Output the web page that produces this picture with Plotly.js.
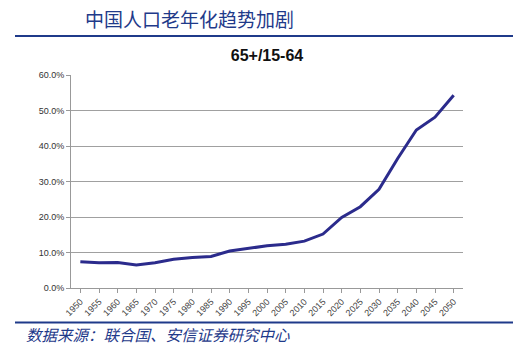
<!DOCTYPE html>
<html><head><meta charset="utf-8">
<script src="https://cdn.plot.ly/plotly-3.0.1.min.js"></script>
<style>html,body{margin:0;padding:0;background:#fff;}#c{width:531px;height:353px;}</style>
</head><body><div id="c"></div>
<script>
const years = ["1950","1955","1960","1965","1970","1975","1980","1985","1990","1995","2000","2005","2010","2015","2020","2025","2030","2035","2040","2045","2050"];
const ratio = [7.4,7.1,7.2,6.5,7.1,8.1,8.6,8.9,10.4,11.2,11.9,12.3,13.2,15.2,19.9,22.9,27.8,36.5,44.5,48.1,54.3];
const yTicks = [0,10,20,30,40,50,60];
const yTickText = ["0.0%","10.0%","20.0%","30.0%","40.0%","50.0%","60.0%"];

const blue = "#1f3a8a";
const trace = {x: years, y: ratio, type: "scatter", mode: "lines",
  line: {color: "#2b2b8c", width: 3}, hoverinfo: "none"};

const L = 71, R = 463, T = 75, B = 288;
const W = R - L, H = B - T;
const px = x => (x - L) / W;
const py = y => (B - y) / H;

const layout = {
  width: 531, height: 353,
  margin: {l: L, r: 531 - R, t: T, b: 353 - B},
  paper_bgcolor: "#fff", plot_bgcolor: "#fff",
  showlegend: false,
  title: {text: "<b>65+/15-64</b>", font: {family: "Arial, Liberation Sans, sans-serif", size: 16, color: "#111"},
    x: 0.5, xref: "paper", xanchor: "center", y: 1 - 55/353, yref: "container", yanchor: "middle"},
  xaxis: {type: "category", range: [-0.5, years.length - 0.5], showgrid: false, showline: true, linecolor: "#999", linewidth: 1,
    ticks: "outside", ticklen: 4, tickcolor: "#999", tickangle: -45,
    tickfont: {family: "Arial, Liberation Sans, sans-serif", size: 9, color: "#444"}, fixedrange: true},
  yaxis: {range: [0, 60], tickvals: yTicks, ticktext: yTickText, showgrid: true, gridcolor: "#a0a0a0", gridwidth: 1,
    showline: true, linecolor: "#999", linewidth: 1, ticks: "outside", ticklen: 4, tickcolor: "#999",
    tickfont: {family: "Arial, Liberation Sans, sans-serif", size: 9, color: "#333"}, zeroline: false, fixedrange: true},
  shapes: [
    {type: "line", xref: "paper", yref: "paper", x0: px(15), x1: px(513), y0: py(36), y1: py(36),
      line: {color: blue, width: 2}},
    {type: "line", xref: "paper", yref: "paper", x0: px(15), x1: px(513), y0: py(322.5), y1: py(322.5),
      line: {color: blue, width: 2}}
  ],
  annotations: [
    {text: "中国人口老年化趋势加剧", xref: "paper", yref: "paper", x: px(83), xanchor: "left",
      y: py(19), yanchor: "middle", showarrow: false,
      font: {family: "Noto Sans CJK SC", size: 19, color: blue}},
    {text: "<i>数据来源：联合国、安信证券研究中心</i>", xref: "paper", yref: "paper", x: px(24), xanchor: "left",
      y: py(334), yanchor: "middle", showarrow: false,
      font: {family: "Noto Sans CJK SC", size: 15.5, color: blue}}
  ]
};
Plotly.newPlot("c", [trace], layout, {staticPlot: true, displayModeBar: false});
</script></body></html>
